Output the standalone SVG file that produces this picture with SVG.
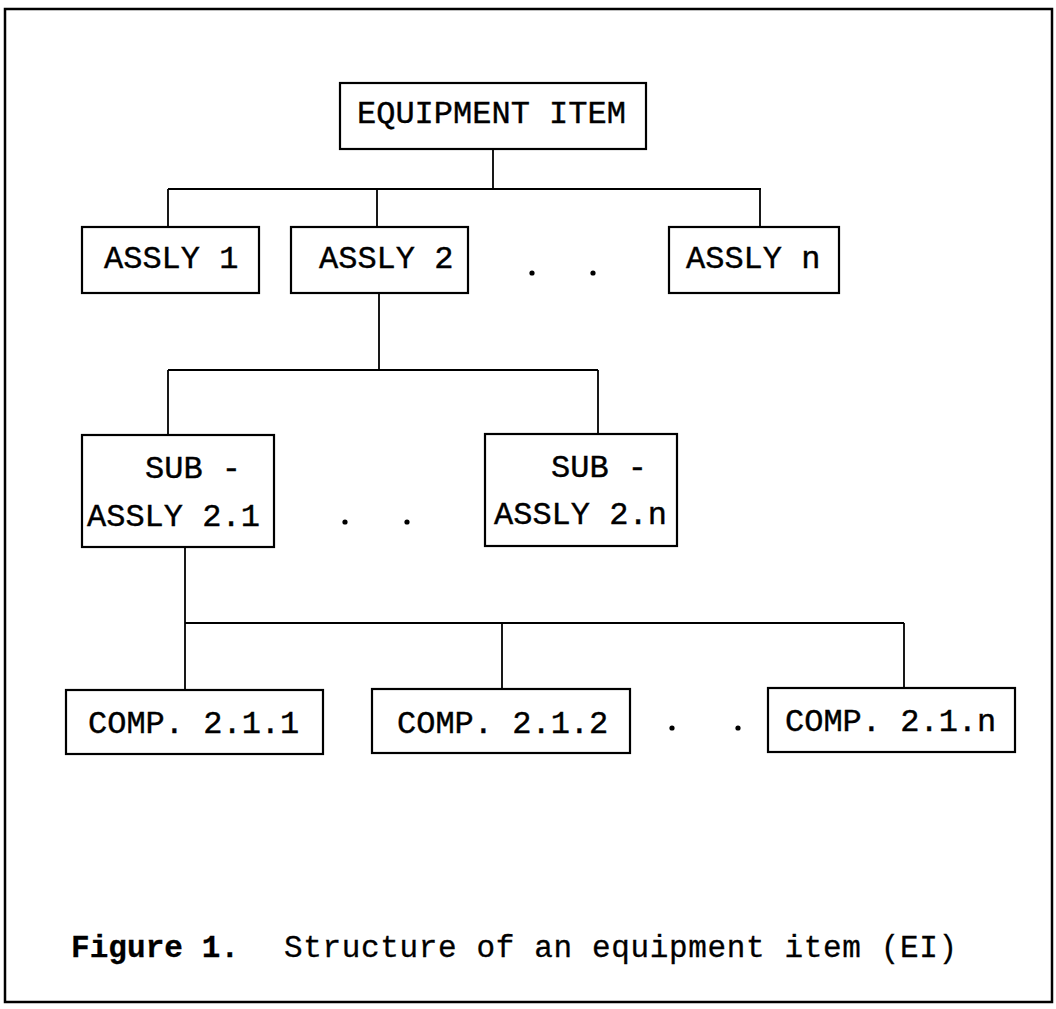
<svg xmlns="http://www.w3.org/2000/svg" width="1056" height="1009" viewBox="0 0 1056 1009">
<style>
.box{fill:#fff;stroke:#000;stroke-width:2.2}
.lbl{font-family:"Liberation Mono","Courier New",monospace;font-size:32px;fill:#000;stroke:#000;stroke-width:0.4}
.cap{font-family:"Liberation Mono","Courier New",monospace;font-size:31px;fill:#000;stroke:#000;stroke-width:0.3}
.con{fill:none;stroke:#000;stroke-width:1.8}
.dot{fill:#000}
</style>
<rect width="1056" height="1009" fill="#fff"/>
<rect x="5" y="9" width="1047" height="993" fill="none" stroke="#000" stroke-width="2.5"/>
<g id="connectors">
<path class="con" d="M493 149 V189 M168 189 H761 M168 189 V227 M377 189 V227 M760 189 V227"/>
<path class="con" d="M379 293 V370 M168 370 H598 M168 370 V435 M598 370 V434"/>
<path class="con" d="M185 547 V623 M185 623 H904 M185 623 V690 M502 623 V689 M904 623 V688"/>
</g>
<g id="n-equipment-item"><rect class="box" x="340" y="83" width="306" height="66"/><text class="lbl" x="357" y="123">EQUIPMENT ITEM</text></g>
<g id="n-assly1"><rect class="box" x="82" y="227" width="177" height="66"/><text class="lbl" x="104" y="268">ASSLY 1</text></g>
<g id="n-assly2"><rect class="box" x="291" y="227" width="177" height="66"/><text class="lbl" x="319" y="268">ASSLY 2</text></g>
<g id="n-asslyn"><rect class="box" x="669" y="227" width="170" height="66"/><text class="lbl" x="686" y="268">ASSLY n</text></g>
<g id="dots1"><circle class="dot" cx="532" cy="273" r="2.6"/><circle class="dot" cx="593" cy="273" r="2.6"/></g>
<g id="n-sub21"><rect class="box" x="82" y="435" width="192" height="112"/><text class="lbl" x="145" y="478">SUB -</text><text class="lbl" x="87" y="526">ASSLY 2.1</text></g>
<g id="n-sub2n"><rect class="box" x="485" y="434" width="192" height="112"/><text class="lbl" x="551" y="477">SUB -</text><text class="lbl" x="494" y="524">ASSLY 2.n</text></g>
<g id="dots2"><circle class="dot" cx="345" cy="522" r="2.6"/><circle class="dot" cx="407" cy="522" r="2.6"/></g>
<g id="n-comp211"><rect class="box" x="66" y="690" width="257" height="64"/><text class="lbl" x="88" y="733">COMP. 2.1.1</text></g>
<g id="n-comp212"><rect class="box" x="372" y="689" width="258" height="64"/><text class="lbl" x="397" y="733">COMP. 2.1.2</text></g>
<g id="n-comp21n"><rect class="box" x="768" y="688" width="247" height="64"/><text class="lbl" x="785" y="731">COMP. 2.1.n</text></g>
<g id="dots3"><circle class="dot" cx="672" cy="728" r="2.6"/><circle class="dot" cx="738" cy="728" r="2.6"/></g>
<g id="caption"><text class="cap" x="71" y="957" font-weight="bold" textLength="168" lengthAdjust="spacing">Figure 1.</text><text class="cap" x="284" y="957" textLength="673" lengthAdjust="spacing">Structure of an equipment item (EI)</text></g>
</svg>
